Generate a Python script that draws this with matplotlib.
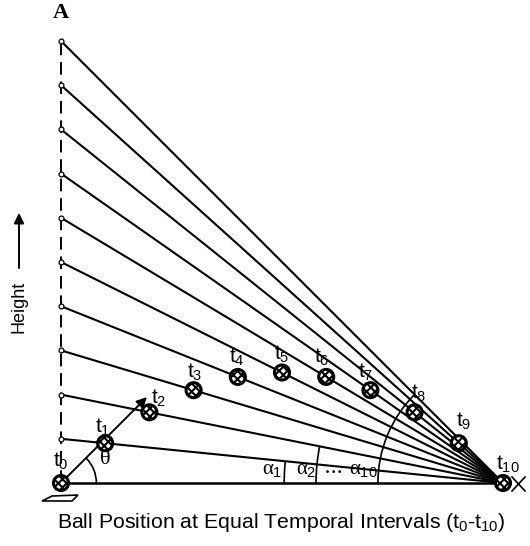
import numpy as np
import matplotlib
matplotlib.use("Agg")
import matplotlib.pyplot as plt
from matplotlib.patches import Circle, Arc, Polygon

plt.rcParams["font.family"] = ["Liberation Sans", "DejaVu Sans"]
plt.rcParams["mathtext.fontset"] = "custom"
plt.rcParams["mathtext.rm"] = "Liberation Sans"
plt.rcParams["mathtext.it"] = "Liberation Serif"
plt.rcParams["hatch.linewidth"] = 1.5

# ---- data ----
ball_time = [0, 1, 2, 3, 4, 5, 6, 7, 8, 9, 10]
ball_height = [0, 0.9, 1.6, 2.1, 2.4, 2.5, 2.4, 2.1, 1.6, 0.9, 0]
left_heights = [1, 2, 3, 4, 5, 6, 7, 8, 9, 10]
time_labels = [r"$\mathregular{t_{%d}}$" % i for i in ball_time]
label_dx = [0.0, -0.05, 0.22, 0.03, -0.03, 0.0, -0.1, -0.1, 0.1, 0.12, 0.1]
label_dy = [0.5, 0.35, 0.32, 0.4, 0.45, 0.42, 0.45, 0.4, 0.42, 0.5, 0.42]
alpha_labels = [r"$\alpha_{\mathregular{1}}$", r"$\alpha_{\mathregular{2}}$", r"$\cdots$", r"$\alpha_{\mathregular{10}}$"]
alpha_label_x = [4.77, 5.55, 6.15, 6.85]
alpha_arc_index = [1, 2, 10]
alpha_arc_radius = [4.95, 4.23, 2.83]
theta_deg = 45

# pixel geometry mapping: x=0 at px 61, x=10 at px 503; baseline at px 483
PX = 44.2
x0_px, base_px = 61, 483
W, H = 530, 546

fig = plt.figure(figsize=(W / 100, H / 100), dpi=100)
ax = fig.add_axes([0, 0, 1, 1])
ax.set_xlim(-x0_px / PX, (W - x0_px) / PX)
ax.set_ylim(-(H - base_px) / PX, base_px / PX)
ax.axis("off")

xend = ball_time[-1]
# baseline
ax.plot([0, xend], [0, 0], color="black", lw=1.8, solid_capstyle="butt", zorder=2)
# dashed vertical line
ax.plot([0, 0], [0, left_heights[-1]], color="black", lw=1.4,
        dashes=(6.5, 3.5), zorder=2)
# lines from left points to the convergence point
for h in left_heights:
    ax.plot([0, xend], [h, 0], color="black", lw=1.5, zorder=2)
    ax.plot([0], [h], marker="o", ms=3.5, mfc="white", mec="black", mew=0.9, zorder=3)

# balls
for t, h in zip(ball_time, ball_height):
    c = Circle((t, h), 0.17, facecolor="white", edgecolor="black", lw=2.2,
               hatch="xxxx", zorder=5)
    ax.add_patch(c)

# time labels
for t, h, lab, dx, dy in zip(ball_time, ball_height, time_labels, label_dx, label_dy):
    ax.text(t + dx, h + dy, lab, fontsize=15, ha="center", va="center", zorder=6)

# theta arrow
th = np.deg2rad(theta_deg)
ax.annotate("", xy=(2.75 * np.cos(th), 2.75 * np.sin(th)), xytext=(0, 0),
            arrowprops=dict(arrowstyle="-|>", color="black", lw=1.4,
                            mutation_scale=15, shrinkA=0, shrinkB=0), zorder=4)
ax.add_patch(Arc((0, 0), 2 * 0.8, 2 * 0.8, theta1=0, theta2=theta_deg,
                 color="black", lw=1.2))
ax.text(1.0, 0.55, r"$\theta$", fontsize=16, ha="center", va="center")

# alpha arcs
for idx, r in zip(alpha_arc_index, alpha_arc_radius):
    ang = np.degrees(np.arctan2(left_heights[idx - 1], xend))
    ax.add_patch(Arc((xend, 0), 2 * r, 2 * r, theta1=180 - ang, theta2=180,
                     color="black", lw=1.2))
for lab, lx in zip(alpha_labels, alpha_label_x):
    ax.text(lx, 0.3, lab, fontsize=15, ha="center", va="center")

# "A"
ax.text(0.0, (base_px - 13) / PX, "A", fontsize=16, fontweight="bold",
        family="Liberation Serif", ha="center", va="center")

# Height arrow and label
hx = (19 - x0_px) / PX
ax.annotate("", xy=(hx, (base_px - 213) / PX), xytext=(hx, (base_px - 268) / PX),
            arrowprops=dict(arrowstyle="-|>", color="black", lw=1.4,
                            mutation_scale=15, shrinkA=0, shrinkB=0))
ax.text(hx, (base_px - 307) / PX, "Height", rotation=90, fontsize=13,
        ha="center", va="center")

# bottom label
ax.text((281 - x0_px) / PX, (base_px - 522) / PX,
        r"Ball Position at Equal Temporal Intervals (t$_{\mathregular{0}}$-t$_{\mathregular{10}}$)",
        fontsize=15.3, ha="center", va="center")

# small decorations near the start and end
def px(x, y):
    return ((x - x0_px) / PX, (base_px - y) / PX)
ax.add_patch(Polygon([px(42, 501), px(52, 496), px(78, 495), px(72, 501)],
                     closed=True, fill=False, edgecolor="black", lw=1.2))
ax.plot(*zip(px(512, 477), px(525, 491)), color="black", lw=1.2)
ax.plot(*zip(px(512, 491), px(525, 477)), color="black", lw=1.2)

fig.savefig("out.png", dpi=100)
